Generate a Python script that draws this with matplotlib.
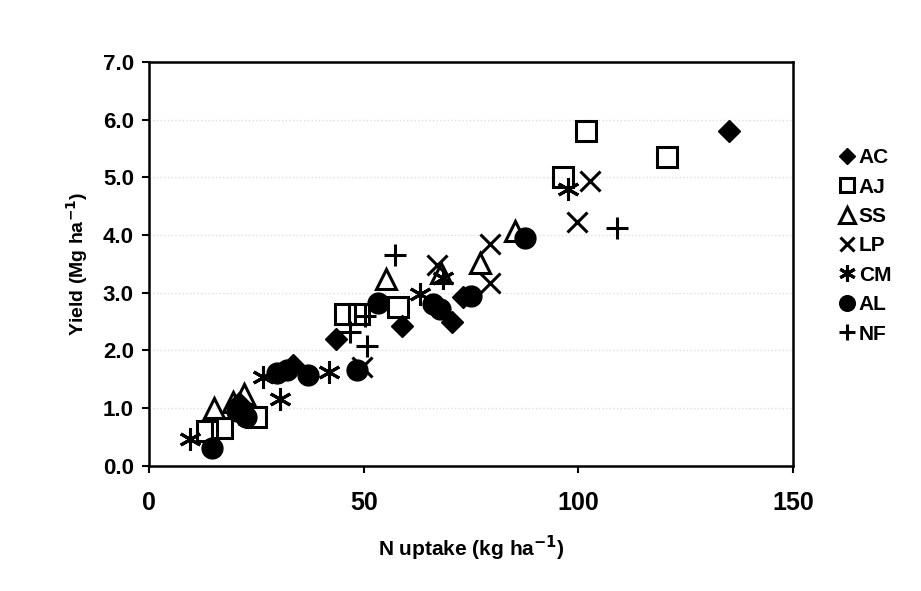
import matplotlib
matplotlib.use("Agg")
import matplotlib.pyplot as plt

plt.rcParams['font.family'] = ['Liberation Sans', 'DejaVu Sans']

# N uptake (kg/ha) and yield (Mg/ha) per species
ac_x = [135, 43.5, 59, 70.5, 73, 33.5, 21]
ac_y = [5.8, 2.2, 2.42, 2.5, 2.92, 1.75, 1.08]

aj_x = [13.5, 17, 25, 45.7, 48.8, 58, 96.4, 101.8, 120.6]
aj_y = [0.6, 0.66, 0.84, 2.63, 2.63, 2.75, 5.0, 5.8, 5.35]

ss_x = [15, 19.5, 22, 55.2, 68, 77.1, 85.3]
ss_y = [1.0, 1.1, 1.25, 3.23, 3.35, 3.52, 4.07]

lp_x = [102.7, 99.7, 79.4, 79.4, 67, 49.5]
lp_y = [4.94, 4.23, 3.85, 3.17, 3.48, 1.72]

cm_x = [9.6, 26.6, 30.5, 42, 63, 68.5, 97.6]
cm_y = [0.47, 1.54, 1.15, 1.62, 2.98, 3.26, 4.8]

al_x = [14.7, 20.5, 22.5, 29.8, 32, 37, 48.5, 53.3, 66.2, 67.8, 75, 87.5]
al_y = [0.3, 0.95, 0.85, 1.6, 1.66, 1.57, 1.66, 2.82, 2.8, 2.72, 2.95, 3.95]

nf_x = [57.3, 50.3, 46.8, 50.8, 109, 21]
nf_y = [3.66, 2.6, 2.32, 2.08, 4.12, 0.9]

fig = plt.figure(figsize=(9.21, 5.91), dpi=100)
ax = fig.add_axes([0.162, 0.212, 0.699, 0.683])

ax.plot(ac_x, ac_y, ls='none', marker='D', ms=11, color='black', label='AC')
ax.plot(aj_x, aj_y, ls='none', marker='s', ms=14, mfc='none', mec='black', mew=2.2, label='AJ')
ax.plot(ss_x, ss_y, ls='none', marker='^', ms=15, mfc='none', mec='black', mew=2.2, label='SS')
ax.plot(lp_x, lp_y, ls='none', marker='x', ms=14, mec='black', mew=2.2, label='LP')
ax.plot(cm_x, cm_y, ls='none', marker=(6, 2, 0), ms=16, mec='black', mew=2.2, label='CM')
ax.plot(al_x, al_y, ls='none', marker='o', ms=15, color='black', label='AL')
ax.plot(nf_x, nf_y, ls='none', marker='+', ms=16, mec='black', mew=2.2, label='NF')

ax.set_xlim(0, 150)
ax.set_ylim(0, 7)
ax.set_xticks([0, 50, 100, 150])
ax.set_yticks([0, 1, 2, 3, 4, 5, 6, 7])
ax.set_yticklabels(['%.1f' % v for v in range(8)])
ax.tick_params(direction='out', length=5, width=1.5)
ax.tick_params(axis='x', labelsize=18, pad=13)
ax.tick_params(axis='y', labelsize=16, pad=6)
for lab in ax.get_xticklabels() + ax.get_yticklabels():
    lab.set_fontweight('bold')
for s in ax.spines.values():
    s.set_linewidth(1.8)

ax.yaxis.grid(True, ls=':', color='#dddddd', lw=1)
ax.set_axisbelow(True)

ax.set_xlabel('N uptake (kg ha$^{\\mathbf{-1}}$)', fontsize=15, fontweight='bold', labelpad=14)
ax.set_ylabel('Yield (Mg ha$^{\\mathbf{-1}}$)', fontsize=14, fontweight='bold', labelpad=9)

fig.legend(loc='center left', bbox_to_anchor=(0.893, 0.584), frameon=False,
           markerscale=0.75, handlelength=0.6, handletextpad=0.25,
           labelspacing=0.5, prop={'weight': 'bold', 'size': 15})

fig.savefig('out.png', dpi=100)
